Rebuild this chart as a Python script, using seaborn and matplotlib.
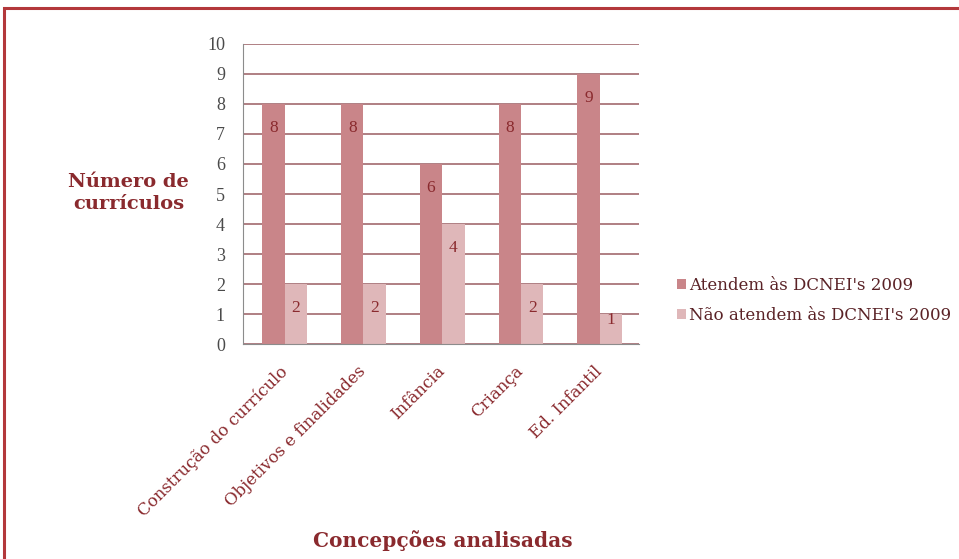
import numpy as np
import pandas as pd
import matplotlib
matplotlib.use('Agg')
import matplotlib.pyplot as plt
import matplotlib.transforms as mtransforms
import seaborn as sns
from matplotlib.patches import Rectangle

# data
categorias = ['Construção do currículo', 'Objetivos e finalidades', 'Infância', 'Criança', 'Ed. Infantil']
atendem = [8, 8, 6, 8, 9]
nao_atendem = [2, 2, 4, 2, 1]
series = ["Atendem às DCNEI's 2009", "Não atendem às DCNEI's 2009"]

df = pd.DataFrame({
    'cat': categorias * 2,
    'val': atendem + nao_atendem,
    'serie': [series[0]] * 5 + [series[1]] * 5,
})

sns.set_style('white')
plt.rcParams['font.family'] = ['DejaVu Serif', 'Liberation Serif']

txt = '#8a2a2e'
fig = plt.figure(figsize=(9.59, 5.59), dpi=100)
ax = fig.add_axes([0.2534, 0.3846, 0.413, 0.5367])

sns.barplot(data=df, x='cat', y='val', hue='serie', ax=ax,
            palette=['#c98589', '#dfb7b9'], width=0.57, saturation=1,
            edgecolor='none', legend=True)

ax.set_ylim(0, 10)
ax.set_xlim(-0.53, 4.47)
ax.set_yticks(range(11))
ax.yaxis.grid(True, color='#a26a6e', linewidth=1.2)
ax.set_axisbelow(True)
for s in ['top', 'right']:
    ax.spines[s].set_visible(False)
ax.spines['left'].set_color('#8c8c8c')
ax.spines['bottom'].set_color('#8c8c8c')
ax.tick_params(axis='y', length=5, pad=8, color='#8c8c8c', labelsize=13, labelcolor='#4a4a4a')
for lb in ax.get_yticklabels():
    lb.set_family('Liberation Serif')
ax.tick_params(axis='x', length=0)
ax.set_xticks(np.arange(-0.5, 5, 1), minor=True)
ax.tick_params(axis='x', which='minor', length=5, color='#8c8c8c')
ax.set_xticks(range(5))
ax.set_xticklabels(categorias, rotation=45, ha='right', rotation_mode='anchor',
                   fontsize=12, color=txt)
shift = mtransforms.ScaledTranslation(-6 / 100, -14 / 100, fig.dpi_scale_trans)
for lb in ax.get_xticklabels():
    lb.set_transform(lb.get_transform() + shift)

# value labels inside the bars, near the top
for cont in ax.containers:
    for bar in cont:
        h = bar.get_height()
        off = -24 if h >= 2 else -6
        ax.annotate(f'{h:.0f}', (bar.get_x() + bar.get_width() / 2, h),
                    xytext=(0, off), textcoords='offset pixels',
                    ha='center', va='center', fontsize=12.5, color=txt,
                    family='Liberation Serif')

ax.set_xlabel('')
ax.set_ylabel('')
fig.text(0.134, 0.655, 'Número de\ncurrículos', ha='center', va='center',
         fontsize=14, fontweight='bold', color=txt, linespacing=1.25)
fig.text(0.462, 0.033, 'Concepções analisadas', ha='center', va='center',
         fontsize=14.5, fontweight='bold', color=txt)

leg = ax.legend(loc='center left', bbox_to_anchor=(1.078, 0.145), frameon=False,
                fontsize=12, handlelength=0.55, handleheight=0.55,
                handletextpad=0.2, labelspacing=0.8, borderaxespad=0)
for t in leg.get_texts():
    t.set_color('#5a2226')

fig.patches.append(Rectangle((0.004, -0.01), 1.0, 0.996, transform=fig.transFigure,
                             fill=False, edgecolor='#b3383b', linewidth=2.2))

fig.savefig('out.png', dpi=100)
